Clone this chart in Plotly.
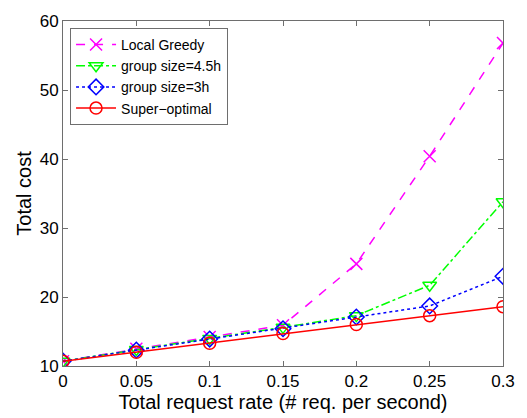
import plotly.graph_objects as go

rates = [0, 0.05, 0.1, 0.15, 0.2, 0.25, 0.3]
local_greedy = [10.7, 12.5, 14.2, 15.9, 24.8, 40.4, 56.8]
group_45h = [10.7, 12.4, 14.0, 15.6, 17.3, 21.7, 33.8]
group_3h = [10.7, 12.3, 13.9, 15.4, 17.1, 18.7, 23.0]
super_optimal = [10.7, 12.0, 13.3, 14.7, 16.0, 17.3, 18.6]

series = [
    ("Local Greedy", local_greedy, "#ff00ff", "dash", "x-thin-open"),
    ("group size=4.5h", group_45h, "#00ff00", "dashdot", "triangle-down-open"),
    ("group size=3h", group_3h, "#0000ff", "dot", "diamond-open"),
    ("Super\u2212optimal", super_optimal, "#ff0000", "solid", "circle-open"),
]

fig = go.Figure()
for name, vals, color, dash, sym in series:
    fig.add_trace(go.Scatter(
        x=rates, y=vals, name=name, mode="lines+markers",
        line=dict(color=color, dash=dash, width=1.5),
        marker=dict(symbol=sym, size=12, color=color,
                    line=dict(color=color, width=1.5)),
    ))

family = "Liberation Sans, Arial, sans-serif"
tick_font = dict(family=family, size=17, color="black")
title_font = dict(family=family, size=20, color="black")
axis_common = dict(
    showline=True, linecolor="#6e6e6e", linewidth=1, mirror="ticks",
    ticks="inside", ticklen=5, tickcolor="#6e6e6e",
    showgrid=False, zeroline=False, tickfont=tick_font,
)

fig.update_layout(
    width=527, height=418,
    margin=dict(l=63, r=14, t=15, b=52),
    paper_bgcolor="white", plot_bgcolor="white",
    font=tick_font,
    xaxis=dict(range=[0, 0.3], tickvals=rates,
               ticktext=["0", "0.05", "0.1", "0.15", "0.2", "0.25", "0.3"],
               title=dict(text="Total request rate (# req. per second)",
                          standoff=0, font=title_font),
               **axis_common),
    yaxis=dict(range=[10, 60], tickvals=[10, 20, 30, 40, 50, 60],
               title=dict(text="Total cost", standoff=2, font=title_font),
               **axis_common),
    legend=dict(x=0.016, y=0.98, xanchor="left", yanchor="top",
                bgcolor="white", bordercolor="#6e6e6e", borderwidth=1,
                font=dict(family=family, size=14, color="black"),
                tracegroupgap=0, itemwidth=40),
    showlegend=True,
)

fig.write_html("out.html")
